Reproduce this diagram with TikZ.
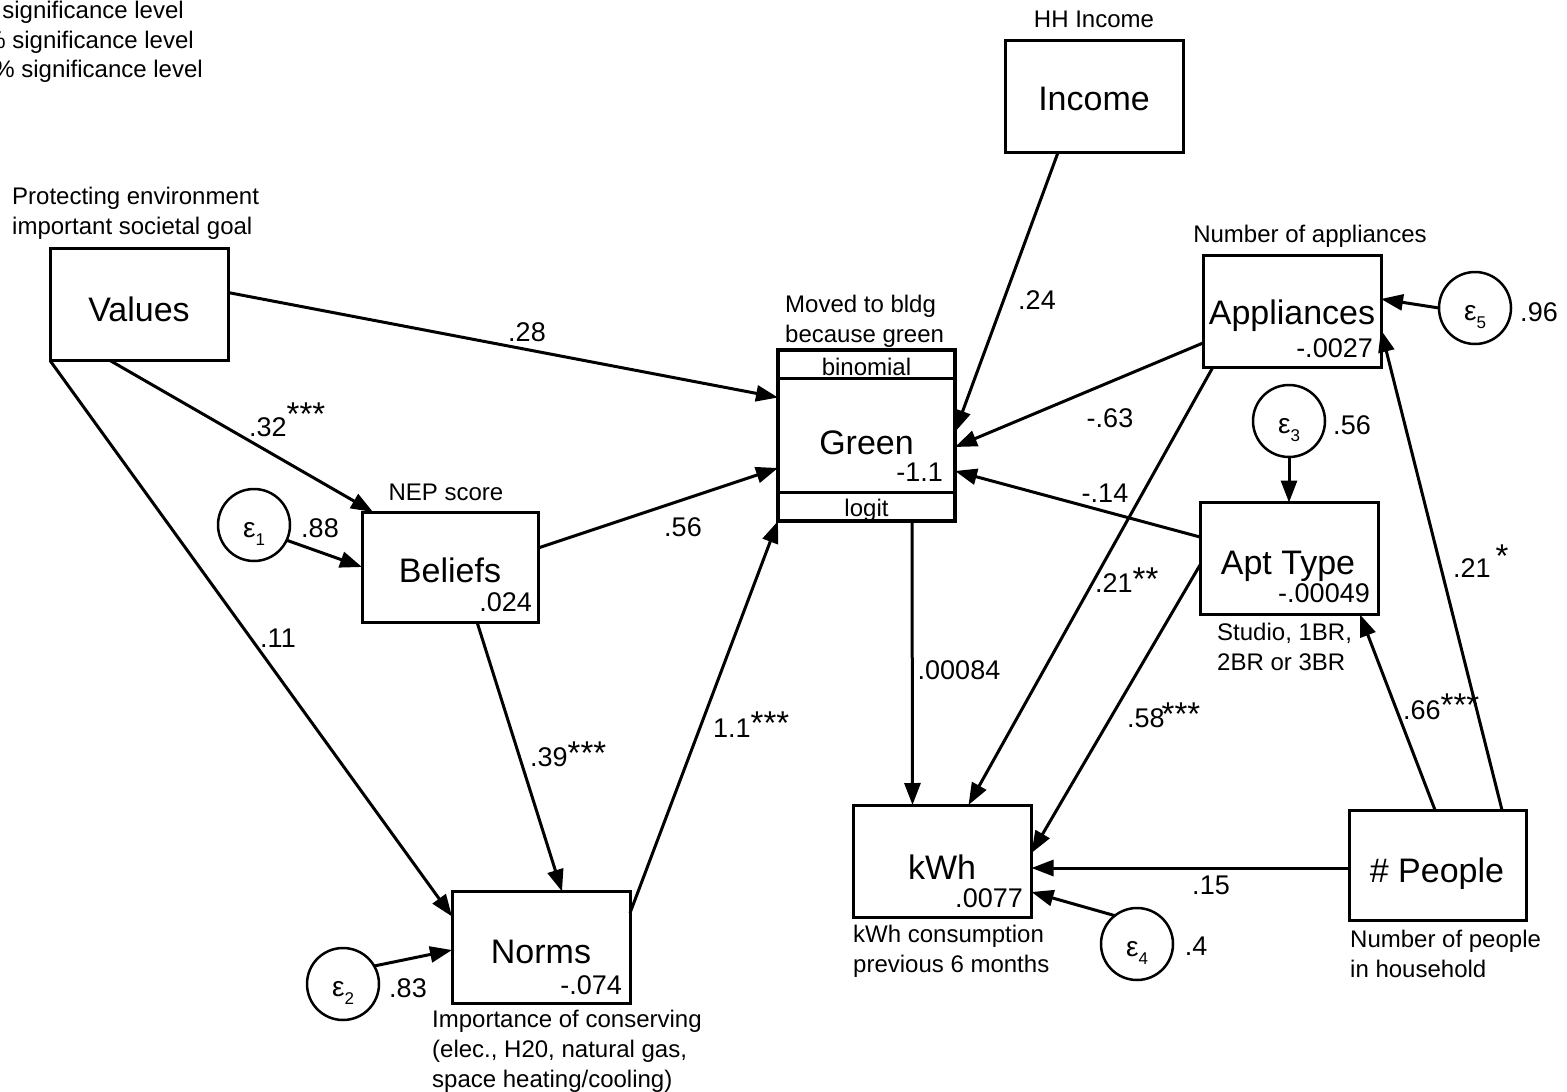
\documentclass[tikz,border=0pt]{standalone}
\usepackage{fontspec}
\setmainfont{Liberation Sans}
\usetikzlibrary{arrows.meta,calc}
\newcommand{\sst}[2]{\raisebox{#1}{\fontsize{33}{33}\selectfont #2}}
\newcommand{\epsn}[1]{ε\raisebox{-8pt}{\fontsize{17}{17}\selectfont #1}}
\begin{document}
\begin{tikzpicture}[x=1pt,y=-1pt,
  box/.style={draw,line width=3pt,minimum width=178pt,minimum height=112pt,inner sep=0pt,outer sep=0pt},
  err/.style={draw,circle,line width=2.5pt,minimum size=72pt,inner sep=0pt,outer sep=0pt,font=\fontsize{28}{28}\selectfont,text height=24pt,text depth=0pt},
  arr/.style={line width=3pt,-{Triangle[length=22pt,width=16pt]}},
  big/.style={font=\fontsize{34}{34}\selectfont,inner sep=0pt,text height=24.3pt,text depth=0pt},
  val/.style={font=\fontsize{27}{27}\selectfont,inner sep=0pt,text height=19.3pt,text depth=0pt},
  elab/.style={font=\fontsize{27}{27}\selectfont,inner sep=0pt,text height=19.3pt,text depth=0pt},
  ann/.style={font=\fontsize{24}{30}\selectfont,inner sep=0pt,align=left,anchor=north west},
  ann1/.style={font=\fontsize{24}{24}\selectfont,inner sep=0pt,text height=17.2pt,text depth=0pt}
]
\useasboundingbox (0,0) rectangle (1567,1092);
\fill[white] (0,0) rectangle (1567,1092);

% legend
\node[ann1,anchor=east] (leg1) at (184,10) {significance level};
\node[ann1,anchor=east] (leg2) at (194,40) {\% significance level};
\node[ann1,anchor=east] (leg3) at (203,69) {\% significance level};

% boxes
\node[box] (values) at (139,304.5) {};
\node[box,minimum width=176pt,minimum height=110pt] (beliefs) at (450,567) {};
\node[box] (norms) at (541,947.5) {};
\node[box,minimum width=177pt,minimum height=171pt,line width=3.5pt] (green) at (866.5,435.5) {};
\node[box] (income) at (1094,96.5) {};
\node[box] (apps) at (1292,311) {};
\node[box] (apt) at (1289,558.5) {};
\node[box] (kwh) at (942.5,861) {};
\node[box,minimum width=177pt,minimum height=110pt] (people) at (1437.5,865) {};

\draw[line width=3pt] ($(green.north west)+(0,28)$) -- ($(green.north east)+(0,28)$);
\draw[line width=3pt] ($(green.south west)+(0,-29)$) -- ($(green.south east)+(0,-29)$);

% box texts
\node[big] (tvalues) at (139,309) {Values};
\node[big] (tbeliefs) at (450,570) {Beliefs};
\node[big] (tnorms) at (541,951) {Norms};
\node[big] (tgreen) at (866.5,442) {Green};
\node[big] (tincome) at (1094,98) {Income};
\node[big] (tapps) at (1292,312) {Appliances};
\node[big] (tapt) at (1288,562) {Apt Type};
\node[big] (tkwh) at (942,867) {kWh};
\node[big] (tpeople) at (1437,870) {\# People};

\node[val,anchor=east] (vbeliefs) at (532,602) {.024};
\node[val,anchor=east] (vnorms) at (622,985) {-.074};
\node[val,anchor=east] (vgreen) at (943,472) {-1.1};
\node[val,anchor=east] (vapps) at (1373,348) {-.0027};
\node[val,anchor=east] (vapt) at (1370,593) {-.00049};
\node[val,anchor=east] (vkwh) at (1023,898) {.0077};

\node[ann1] (binom) at (866.5,367) {binomial};
\node[ann1] (logit) at (866.5,508) {logit};

% annotations
\node[ann] (avalues) at (12,187) {Protecting environment\\important societal goal};
\node[ann1] (abeliefs) at (446,492) {NEP score};
\node[ann] (agreen) at (785,295) {Moved to bldg\\because green};
\node[ann1] (aincome) at (1094,19) {HH Income};
\node[ann1] (aapps) at (1310,234) {Number of appliances};
\node[ann] (aapt) at (1217,623) {Studio, 1BR,\\2BR or 3BR};
\node[ann] (akwh) at (853,925) {kWh consumption\\previous 6 months};
\node[ann] (apeople) at (1350,930) {Number of people\\in household};
\node[ann] (anorms) at (432,1010) {Importance of conserving\\(elec., H20, natural gas,\\space heating/cooling)};

% error terms
\node[err] (e1) at (254,525) {\epsn{1}};
\node[err] (e2) at (343,984) {\epsn{2}};
\node[err] (e3) at (1289,421) {\epsn{3}};
\node[err] (e4) at (1137,944) {\epsn{4}};
\node[err] (e5) at (1475,308) {\epsn{5}};

% connectors
\draw[arr] ($(values.east)+(0,-12)$) -- ($(green.west)+(0,-38)$);
\draw[arr] ($(values.south west)+(60,0)$) -- ($(beliefs.north west)+(11,0)$);
\draw[arr] (values.south west) -- ($(norms.west)+(0,-31)$);
\draw[arr] (e1.-25) -- (beliefs.west);
\draw[arr] ($(beliefs.east)+(0,-19)$) -- ($(green.west)+(0,32.5)$);
\draw[arr] ($(beliefs.south west)+(115,0)$) -- ($(norms.north)+(21,0)$);
\draw[arr] ($(norms.east)+(0,-34.5)$) -- (green.south west);
\draw[arr] (e2.30) -- ($(norms.west)+(0,2.5)$);
\draw[arr] ($(income.south)+(-36,0)$) -- ($(green.east)+(0,-3.5)$);
\draw[arr] ($(apps.west)+(0,32)$) -- ($(green.east)+(0,11.5)$);
\draw[arr] ($(apt.west)+(0,-21.5)$) -- ($(green.east)+(0,35.5)$);
\draw[arr] ($(apps.south west)+(10,0)$) -- ($(kwh.north west)+(115,0)$);
\draw[arr] ($(apt.west)+(0,6.5)$) -- ($(kwh.east)+(0,-8)$);
\draw[arr] ($(green.south)+(45.5,0)$) -- ($(kwh.north west)+(59,0)$);
\draw[arr] ($(people.west)+(0,3)$) -- ($(kwh.east)+(0,7)$);
\draw[arr] (e4.128) -- ($(kwh.south east)+(0,-25)$);
\draw[arr] ($(people.north)+(-2.5,0)$) -- ($(apt.south east)+(-18,0)$);
\draw[arr] ($(people.north east)+(-24,0)$) -- ($(apps.east)+(0,19)$);
\draw[arr] (e3.south) -- (apt.north);
\draw[arr] (e5.west) -- ($(apps.east)+(0,-12)$);

% connector labels
\node[elab] (l1) at (527,332) {.28};
\node[elab,anchor=west] (l2) at (249,427) {.32\sst{11pt}{***}};
\node[elab] (l3) at (278,638) {.11};
\node[elab] (l4) at (683,527) {.56};
\node[elab,anchor=west] (l5) at (530,757) {.39\sst{2pt}{***}};
\node[elab,anchor=west] (l6) at (713,728) {1.1\sst{3pt}{***}};
\node[elab] (l7) at (1037,300) {.24};
\node[elab] (l8) at (1110,418) {-.63};
\node[elab] (l9) at (1105,493) {-.14};
\node[elab,anchor=west] (l10) at (1095,583) {.21\sst{2pt}{**}};
\node[elab,anchor=west] (l11) at (1127,718) {.58\hspace{-3pt}\sst{2pt}{***}};
\node[elab] (l12) at (959,670) {.00084};
\node[elab] (l13) at (1211,885) {.15};
\node[elab,anchor=west] (l14) at (1403,710) {.66\sst{3pt}{***}};
\node[elab,anchor=west] (l15) at (1453,568) {.21\hspace{5pt}\sst{10pt}{*}};
\node[elab] (l16) at (320,528) {.88};
\node[elab] (l17) at (408,988) {.83};
\node[elab] (l18) at (1352,425) {.56};
\node[elab] (l19) at (1196,946) {.4};
\node[elab] (l20) at (1539,312) {.96};
\end{tikzpicture}
\end{document}
